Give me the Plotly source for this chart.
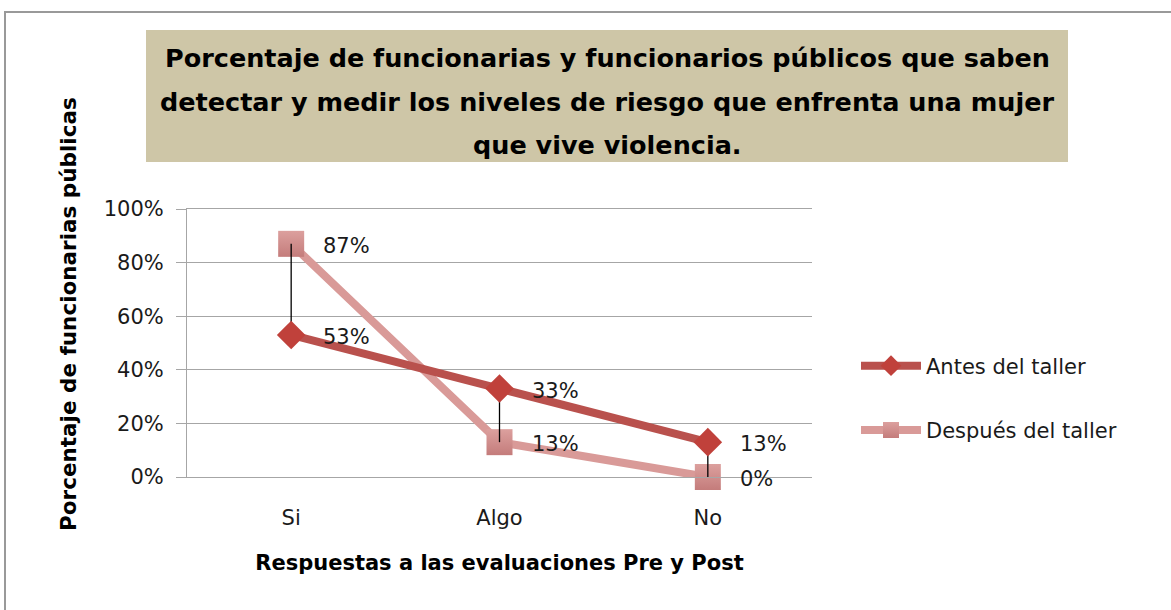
import plotly.graph_objects as go

categories = ["Si", "Algo", "No"]
antes = [53, 33, 13]
despues = [87, 13, 0]
ytick_vals = [0, 20, 40, 60, 80, 100]
ytick_text = ["0%", "20%", "40%", "60%", "80%", "100%"]
title_lines = [
    "Porcentaje de funcionarias y funcionarios públicos que saben",
    "detectar y medir los niveles de riesgo que enfrenta una mujer",
    "que vive violencia.",
]
y_title = "Porcentaje de funcionarias públicas"
x_title = "Respuestas a las evaluaciones Pre y Post"

W, H = 1171, 610
L, R, T, B = 187, 812, 209, 477  # plot area in px

def px_x(p):
    return (p - L) / (R - L)

def px_y(p):
    return (B - p) / (B - T)

FONT = "DejaVu Sans"
GRID = "#A6A6A6"
TXT = "#1a1a1a"

up = [max(0, d - a) for a, d in zip(antes, despues)]
down = [max(0, a - d) for a, d in zip(antes, despues)]

fig = go.Figure()

fig.add_trace(go.Scatter(
    x=categories, y=despues, name="Después del taller",
    mode="lines+markers", cliponaxis=False,
    line=dict(color="#D99A98", width=8),
    marker=dict(symbol="square", size=26, color="#DCA09E",
                gradient=dict(type="vertical", color="#C47C7B"),
                line=dict(width=0)),
    legendgroup="b", legendrank=2,
))
fig.add_trace(go.Scatter(
    x=categories, y=antes, name="Antes del taller",
    mode="lines+markers", cliponaxis=False,
    line=dict(color="#B9514D", width=8),
    marker=dict(symbol="diamond", size=22, color="#C0413B", line=dict(width=0)),
    error_y=dict(type="data", symmetric=False, array=up, arrayminus=down,
                 color="#000000", thickness=1.3, width=0),
    legendgroup="a", legendrank=1,
))

shapes = [
    dict(type="rect", xref="paper", yref="paper",
         x0=px_x(5), x1=px_x(1180), y0=px_y(12), y1=px_y(620),
         line=dict(color="#999999", width=2), fillcolor="rgba(0,0,0,0)", layer="below"),
    dict(type="rect", xref="paper", yref="paper",
         x0=px_x(146), x1=px_x(1068), y0=px_y(30), y1=px_y(162),
         line=dict(width=0), fillcolor="#CEC6A7", layer="below"),
]

annotations = []
for i, line in enumerate(title_lines):
    annotations.append(dict(
        text=f"<b>{line}</b>", xref="paper", yref="paper",
        x=px_x(607), y=px_y(58 + i * 43.5), xanchor="center", yanchor="middle",
        showarrow=False, font=dict(family=FONT, size=25.5, color="#000000"),
    ))

# y-axis title
annotations.append(dict(
    text=f"<b>{y_title}</b>", xref="paper", yref="paper",
    x=px_x(68), y=px_y(314), xanchor="center", yanchor="middle", textangle=-90,
    showarrow=False, font=dict(family=FONT, size=21.5, color="#000000"),
))

# data labels
for series in (antes, despues):
    for c, v in zip(categories, series):
        annotations.append(dict(
            text=f"{v}%", x=c, y=v, xref="x", yref="y",
            xanchor="left", yanchor="middle", xshift=30, yshift=-2,
            showarrow=False, font=dict(family=FONT, size=21, color=TXT),
        ))

fig.update_layout(
    width=W, height=H,
    margin=dict(l=L, r=W - R, t=T, b=H - B, pad=0),
    paper_bgcolor="white", plot_bgcolor="white",
    shapes=shapes, annotations=annotations,
    font=dict(family=FONT, size=21, color=TXT),
    showlegend=True,
    legend=dict(x=px_x(856), y=px_y(398), xanchor="left", yanchor="middle",
                font=dict(family=FONT, size=21, color=TXT),
                itemwidth=60, tracegroupgap=34, bgcolor="rgba(0,0,0,0)",
                traceorder="grouped"),
    xaxis=dict(
        type="category", range=[-0.5, 2.5], showgrid=False,
        showline=True, mirror=True, linecolor=GRID, linewidth=1,
        ticks="", ticklabelstandoff=22,
        tickfont=dict(family=FONT, size=21, color=TXT),
        title=dict(text=f"<b>{x_title}</b>",
                   font=dict(family=FONT, size=21, color="#000000"), standoff=26),
        fixedrange=True,
    ),
    yaxis=dict(
        range=[0, 100], tickvals=ytick_vals, ticktext=ytick_text,
        showgrid=True, gridcolor=GRID, gridwidth=1,
        zeroline=False, showline=True, linecolor=GRID, linewidth=1,
        ticks="outside", ticklen=10, tickcolor=GRID, ticklabelstandoff=8,
        tickfont=dict(family=FONT, size=21, color=TXT),
        fixedrange=True,
    ),
)

fig.write_html("out.html", config={"displayModeBar": False},
               post_script="document.body.style.margin='0';")
